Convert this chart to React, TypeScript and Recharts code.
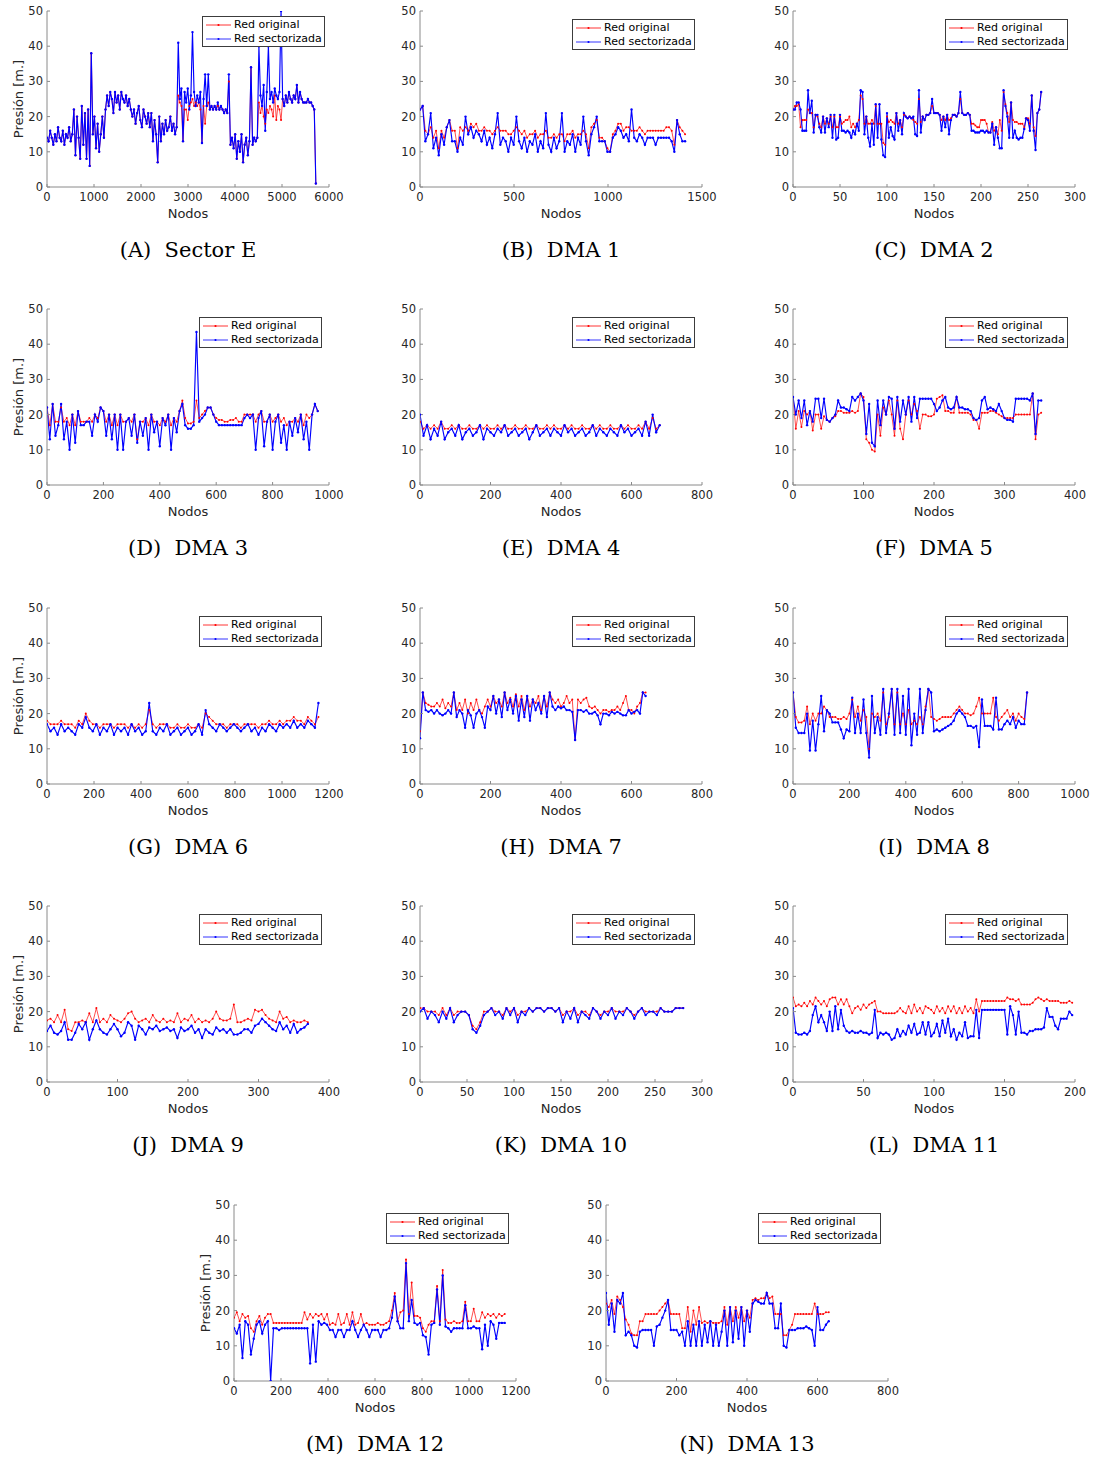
import React from 'react';
import { LineChart, Line, XAxis, YAxis, Legend, Label } from 'recharts';

const SANS = '"DejaVu Sans", sans-serif';
const SERIF = '"DejaVu Serif", serif';
const TEXT = '#262626';
const AXIS = '#8a8a8a';
const RED = '#ff0000';
const BLUE = '#0000ff';

const PLOT_W = 282;
const PLOT_H = 176;
const Y_TICKS = [0, 10, 20, 30, 40, 50];

// (A) Sector E
const sectorEOriginal = [14,13,16,14,12,15,13,17,14,13,16,12,15,14,17,13,15, 22,9,20,14,8,23,12,21,8,22,6,38, 15,20,11,18,10,15,20,14,22, 26,23,27,25,21,27,24,26,22,27,25,24,26,23,25,22, 20,22,18,21,23,19,17,22,20,18,21,17, 21,13,19,15,7,20,13,18, 15,19,16,17,20,16,18,15,17, 26, 24,23,13,22,22,19,23,24, 25, 23,24,23,24,22,12.5,23,18,23,24,22, 23,22,23,22,23,22,23,22,21,22,21,30, 12,14,11,15,8,13,10,15,7,12,14,9,13,34,12,14, 13,14, 24, 21,23,20,18,22,21,23,22,20,26,19,23,22, 19, 25,23,26,24,27,25,24,26,25,29,24,27,25,24,24,24,25,24,24,23, 22, 1];
const sectorESectorizada = [14,13,16,14,12,15,13,17,14,13,16,12,15,14,17,13,15, 22,9,20,14,8,23,12,21,8,22,6,38, 15,20,11,18,10,15,20,14,22, 26,23,27,25,21,27,24,26,22,27,25,24,26,23,25,22, 20,22,18,21,23,19,17,22,20,18,21,17, 21,13,19,15,7,20,13,18, 15,19,16,17,20,16,18,15,17, 41, 25,28,13,27,24,28,22,26, 44, 27,23,26,24,27,12.5,25,32,23,32,22, 23,22,23,22,24,22,23,22,21,22,21,32, 12,14,11,15,8,13,10,15,7,12,14,9,13,34,12,14, 13,14, 40, 26,23,29,16,27,40,25,27,24,28,26,25,27, 50, 25,23,26,24,27,25,24,26,25,29,24,27,25,24,24,24,25,24,24,23, 22, 1];

// (B) DMA 1
const dma1Original = [22,23,16,15,17,14,16,11,16,14, 17,19,16,16,11,17,16,17,16,18, 17,18,16,16,17,16,16,15,16,17, 16,16,16,15,15,16,17,16,15,16, 14,15,15,16,14,15,15,16,14,14, 15,14,15,15,13,15,15,16,14,15, 15,16,15,11,17,18,19,14,14,13, 11,10,15,16,18,18,16,17,17,16, 16,16,17,16,15,16,16,16,16,16, 16,16,17,17,16,12,19,17,16,15];
const dma1Sectorizada = [22,23,13,15,21,11,14,9,15,12, 17,19,13,13,10,14,12,20,15,17, 14,16,15,13,16,12,14,11,15,21, 12,14,13,10,14,12,20,13,11,14, 10,13,12,15,10,13,11,21,12,10, 14,11,13,21,10,13,12,15,10,14, 12,20,13,9,15,17,20,13,13,13, 10,10,14,15,17,16,14,15,13,22, 14,13,15,14,12,14,14,14,12,14, 14,14,14,14,13,10,19,15,13,13];

// (C) DMA 2
const dma2Original = [22,23,23,23.5,17,19,19,19,22,21, 21,17,20.5,20,18,17,20,18,19.5,18, 20,17,20,17,17,20,18,18.5,19,19, 20,17,18,17,18,19,26,25,18,20, 18,18,19,18,23,18,18,18,12.5,12, 20,18.5,19,18.5,18,21,18,19,17,20.5, 20,19.5,20,19.5,19,18.5,18,25,18.5,20, 19,20.5,20.5,21,23,21,21,21,20.5,19, 20,19,20.5,19,19.5,20.5,20.5,20,21,25, 21,20.5,20.5,21,20.5,18,18,17.5,17,17, 19,19,19,18,15.5,15.5,18.5,16,17,15, 19,16,27,23.5,21,18.5,24,19,18.5,18.5, 18,18,18,17,19.5,19.5,18,26,17,14.5, 21,22,27];
const dma2Sectorizada = [22,22,24,24,22,16,16,16,27.5,21, 24.5,15.5,20.5,20.5,17,15.5,20,15.5,19.5,17, 20.5,14,20.5,13.5,14,20.5,16,16,15.5,16, 15.5,14,16,15,18,16,27.5,27,15,20, 14,11.5,18,12,23.5,14,23.5,13.5,9,8.5, 21,14,17,14.5,13.5,21,16,19,15,21, 20,19.5,20,19.5,20,15,14.5,27.5,15.5,20, 19,20.5,20.5,21,25,21,21,21,20.5,16, 20,17,20.5,15,19,20.5,20.5,20,21,27, 21,20.5,20.5,21,20.5,16,16,15.5,15.5,15.5, 16,16,15.5,16,15.5,15.5,18,12,17,14, 11,11,27.5,23,20,14,24,14,16,14, 13.5,14,14,16.5,19.5,19,16,26,16,10.5, 21,22,27];

// (D) DMA 3
const dma3Original = [22,17,23,18,18,22,18,19,17,20, 17,21,18,18,18,19,18,20,19,22, 21,18,20,17,20,17,20,18,18,19, 18,20,13,18,18,19,17,20,18,18, 17,19,18,20,17,19,18,21,24,19, 17.5,17.5,18,24,19,20,21,22,22,20, 19,18.5,18.5,18,18,18.5,18.5,19,18,18, 20,20,20,20,18,20,21,18,18,20, 18,19,20,18,19,17,18,18,19,18, 20,17,20,19,20,23,21];
const dma3Sectorizada = [22,13,23,14,17,23,13,18,10,20, 12,21,17,17,18,18,14,20,18,22, 21,14,20,13,20,10,20,10,18,19, 14,20,12,18,14,19,10,20,15,18, 11,19,17,20,10,19,15,21,23,17, 16,16,17,43.5,18,19,20,22,22,20, 18,17,17,17,17,17,17,17,17,17, 19,20,19,20,10,19,21,11,18,20, 10,18,20,12,17,10,18,14,19,15, 20,13,18,10,20,23,21];

// (E) DMA 4
const dma4Original = [18,16,17,16,17,16,18,16,16,17, 16,17,16,16,17,16,16,17,16,17, 16,16,17,16,17,16,16,17,16,16, 17,16,16,17,16,16,17,16,17,16, 16,17,16,17,16,16,17,16,16,17, 16,17,16,16,17,16,16,17,16,17, 16,16,17,16,18,16,19,16,17];
const dma4Sectorizada = [20,14,17,13,16,14,18,13,15,16, 14,17,13,15,16,14,15,17,13,16, 15,14,16,15,17,14,15,16,14,15, 16,13,15,17,14,15,16,14,16,15, 14,17,15,16,14,15,16,14,15,17, 14,16,15,14,16,15,14,17,15,16, 14,15,16,14,18,14,20,15,17];

// (F) DMA 5
const dma5Original = [25,16,21,16.5,21,20,21,15.5,20,20, 16,19.5,18.5,18,19,19.5,21,21,20.5,20.5, 20.5,21,20.5,21,26,25,13,12,10,9.5, 20,14,22,20,24,20,14,24,16,13, 20,24,20,23,21,16,20,20,19.5,19.5, 20,24.5,25,25.5,21,21,20.5,20.5,25,20.5, 20.5,20.5,20.5,20,18.5,18.5,16,20.5,20.5,20.5, 21,21,20.5,20,19.5,19,19,19,19,20, 20,20,20,20,20,26,13,20,20.5];
const dma5Sectorizada = [25,20,24,19,24,17,21,18,24.5,24.5, 19,24.5,18.5,18,19,20,24,22,22,21.5, 21,25,24,25,26,24,14.5,23,12,11, 24,17,24,20,25,24.5,16,25,18,24, 20,25,18,25,19,24.5,24.5,24.5,24.5,24.5, 23,21,22,24,25,22,21.5,22,25,22, 22,21.5,21.5,21,19,18.5,19,24,25,21.5, 22,21.5,21,23,21,19,18.5,18.5,18,24.5, 24.5,24.5,24.5,24.5,24,26,14.5,24,24];

// (G) DMA 6
const dma6Original = [18,17,17,17,18,17,17,17,16,18, 17,20,18,17,17,16,17,17,17,16, 17,17,17,16,17,16,17,16,17,21, 17,16,17,17,17,16,16,17,16,16, 17,16,16,17,16,20,19,18,17,17, 17,16,17,17,17,16,17,17,17,17, 16,17,17,18,17,17,18,17,18,18, 19,18,18,17,19,18,17,19];
const dma6Sectorizada = [17,15,16,14,17,15,16,15,14,17, 16,19,16,15,17,14,16,15,17,14, 16,15,16,14,17,15,16,14,15,23, 15,14,16,15,17,14,15,16,14,15, 16,14,15,17,14,21,17,16,15,17, 16,15,16,17,16,15,16,17,15,16, 14,16,15,17,16,15,17,16,17,16, 18,16,17,16,18,17,16,23];

// (H) DMA 7
const dma7Original = [15,26,23,22.5,22,22,23,22,24,21.5, 23,22,26,21,23,21,24,20,23,21, 24,21,20,22,24,22,25,23,24,22, 26,23,24.5,22,25.5,22,25,21,25,22, 24,23,25,21,25,22,26,24,23,24, 22,23,25,23,24,12.5,24,23,24,24.5, 22,21.5,22,21,20,21,21,20.5,21,21, 22,21,23,25,21,21,20,22,23,26, 26];
const dma7Sectorizada = [13,26,21,20.5,21,20,21,20,19.5,20, 21,20,26,19,21,20,16,21,19.5,16, 20,21,19,16,22,21,25,20,24,19, 26,21,24,20,25,18,24,19,25,18, 24,21,23,20,25,19,26,22,21,22, 21.5,22,21,21,20.5,12.5,21,21,20.5,21, 20,20,20.5,19.5,17,20,20,19.5,20.5,20, 20.5,20,19.5,19.5,21,20,20.5,21,20,26, 25];

// (I) DMA 8
const dma8Original = [26,19,17.5,17.5,18,22,17,20,18,20, 20,22,21,19,19,19,18.5,18.5,19,18.5, 20,24,19,22,18,21,19,10,20,19, 20,18,26,17,19,27,17,26,17,20, 17,21,17,18,17,19,17,22,27,19, 18.5,18,18.5,19,19,19,19,20,21,22, 21,20,20,19.5,20,22,24.5,20,20,20, 20,24.5,19,18,19,20,21,19,20,18, 20,19,18.5,26];
const dma8Sectorizada = [26,16,14.5,14.5,14.5,20,9.5,18,9.5,17, 25,15,21,20,17.5,17.5,17.5,15.5,13,15.5, 15,24.5,14.5,20,14.5,24,14.5,7.5,25,14.5, 19,14,27,14.5,20,27,14,27,14.5,25, 14,27,11,20,14,27,14.5,21,27,26, 15,15.5,15,15.5,16,16.5,17,18,20,21, 20,19,16.5,16.5,16,16.5,10.5,24,16.5,16.5, 16.5,15.5,24.5,15.5,15.5,17,18,17,19,16, 18,17,17,26];

// (J) DMA 9
const dma9Original = [17.5,18,17,19,17,20.5,15,14.5,17,17, 17.5,17,19.5,17,21,17,18,17,19,18, 17.5,17,18,19.5,20,18,17,17.5,18,17, 19,17.5,17,18,17,17.5,17,19.5,17,18, 17.5,19,17,18,17,17.5,17,18,20,18, 17.5,17.5,18,22,17,17,17.5,18,17.5,20.5, 20,20.5,19,18,17.5,17,20,18,18.5,17, 17.5,17,17,17.5,17];
const dma9Sectorizada = [14.5,16,14,13.5,14.5,17,12,12,14,16.5, 15,17,12,15,17.5,15,14,13.5,15,16.5, 15,13,14,17,16,12,16,15,13.5,15.5, 15,16,14.5,15,15.5,14.5,15,12.5,15.5,14.5, 15,16,14,15,12.5,15,14,13.5,15.5,14.5, 15,14,15,13.5,13.5,14,15,15,14,16, 16.5,18,17,16,15,14.5,17,15,16,14, 16.5,14,15,15.5,16.5];

// (K) DMA 10
const dma10Original = [21,21,20,20,20,19,21,19,21,19, 20,20,20,19,16,15,17,20,20,21, 20,20,19,21,20,21,19,20,20,21, 20,21,21,20,21,21,20,21,19,20, 20,21,19,20,20,19,21,20,19,20, 20,21,20,20,20,21,20,19,20,21, 20,20,20,20,21,20,20,20,21,21, 21];
const dma10Sectorizada = [20,21,18,20,19,17,20,18,21,17, 19,20,20,19,15,14,16,19,20,21, 19,20,18,21,19,21,17,20,19,21, 20,21,21,20,21,21,20,21,17,20, 18,21,17,20,19,18,21,20,18,20, 19,21,18,20,19,21,20,18,20,21, 19,20,20,19,21,20,20,20,21,21, 21];

// (L) DMA 11
const dma11Original = [24,21.5,22,21.5,22.5,21.5,23,22,24,23, 22,23,21.5,23.5,24,24,22,23.5,22,23.5, 21.5,19.5,21,21.5,20.5,22,21,22,22.5,23, 20,20,19.5,19.5,19.5,19.5,19.5,20,21,20, 19.5,21.5,19.5,22,20,21,19.5,21.5,21,20.5, 19.5,21.5,20,21,19.5,21.5,20,21.5,19.5,21, 19.5,21.5,20,21,19.5,23.5,20,23,23,23, 23,23,23,23,23,23,24,23.5,23.5,23, 23.5,22,22,22,22,22.5,23.5,24,23.5,23, 23.5,23,23,23,23,22.5,22.5,22.5,23,22.5];
const dma11Sectorizada = [21,14,13.5,13.5,14,13.5,14.5,19,21.5,17, 19,17,14.5,20,14.5,21.5,15,20.5,16,14.5, 14,14.5,14,14,14.5,14,14,13.5,14,20.5, 12.5,14,13.5,14,13.5,12,12.5,15,13,14.5, 13.5,16,14,16.5,13.5,14,17,13.5,17,13, 14,16.5,13,17.5,14,18,13,15,12,14, 13,17,12.5,13,13,20.5,12.5,20.5,20.5,20.5, 20.5,20.5,20.5,20.5,20.5,20.5,13.5,21.5,19,13.5, 20,14,14,13.5,14.5,14.5,15,15,15,15.5, 21,18.5,18.5,16,15,18,18,18,20,19];

// (M) DMA 12
const dma12Original = [18,19.5,17,19,18,18.5,15,14,17,18.5, 16,18,19,19,16.5,16.5,16.5,16.5,16.5,16.5, 16.5,16.5,16.5,16.5,16.5,19.5,17.5,19,18,19, 18.5,19,17.5,19,16,16.5,16,19,16,16.5, 19,16,19.5,16,16.5,19,16,16.5,16,16, 16,16.5,16,16,16.5,17,20,25,17,19.5, 20,34.5,19,28,18.5,18.5,18,15,14,16, 17,17,27,17,31.5,17.5,16.5,16.5,17,16.5, 16.5,17,22.5,17,17,20.5,17,17,19.5,18, 19,18.5,19,18,19,18.5,19];
const dma12Sectorizada = [15,13.5,16,6.5,17,16,7.5,12,16,17, 13.5,16,17,0,15,15,14.5,15,15,15, 15,15,15,15,15,15,15,5,16,5.5, 17,16,16.5,16,14.5,14.5,12.5,14.5,14.5,12.5, 14.5,14.5,17,14.5,12.5,14.5,16,14.5,12.5,14.5, 14.5,14.5,12.5,14.5,14.5,15,18,24,17,15, 15,33.5,17,23,16.5,16,16.5,13,12.5,7.5, 16,16.5,26,16,30,15.5,15,14,15,15, 15,15,21.5,15,15,15.5,15,15,9,16, 10,17,16,12,16.5,16.5,16.5];

// (N) DMA 13
const dma13Original = [22,21,23,19,24,23,21,17.5,16,13.5, 13,13,17,17,19,19,19,19,19,20, 21,22,23,19,19,19,19,15,15,21, 14,20,16,21,16.5,17,16.5,17,16.5,16.5, 16.5,17,21,16,21,17,21,18,21,17, 20,18,23,23.5,23,23.5,23.5,25,23.5,24, 19,19,19,13,13,14.5,16,19,19,19, 19,19,19,19,22,19,19,19,19.5,19.5];
const dma13Sectorizada = [25,16,22,14,23,22,25,13,14,13, 10,9.5,14,14.5,14.5,14.5,14.5,10,15.5,16, 18,20,23,14.5,14.5,14.5,13,14,10,17, 10,16,10,17,10,16,11,17,10,16, 10,14,20,10,21,11,20,12,21,10, 20,14,22,23,22.5,22,22,25,22,22, 15,15,22,10,9.5,14.5,14.5,14.5,15,15, 15,15.5,15,14.5,10,21,14.5,14.5,16,17];

type PanelSpec = {
  letter: string;
  title: string;
  original: number[];
  sectorizada: number[];
  lastNode: number;
  xTicks: number[];
  plotLeft: number;
  plotTop: number;
  yLabel?: boolean;
  legendTop?: number;
  legendLeft?: number;
};

const PANELS: PanelSpec[] = [
  { letter: 'A', title: 'Sector E', original: sectorEOriginal, sectorizada: sectorESectorizada, lastNode: 5720, xTicks: [0, 1000, 2000, 3000, 4000, 5000, 6000], plotLeft: 47, plotTop: 11, yLabel: true, legendTop: 16, legendLeft: 202 },
  { letter: 'B', title: 'DMA 1', original: dma1Original, sectorizada: dma1Sectorizada, lastNode: 1410, xTicks: [0, 500, 1000, 1500], plotLeft: 420, plotTop: 11 },
  { letter: 'C', title: 'DMA 2', original: dma2Original, sectorizada: dma2Sectorizada, lastNode: 264, xTicks: [0, 50, 100, 150, 200, 250, 300], plotLeft: 793, plotTop: 11 },
  { letter: 'D', title: 'DMA 3', original: dma3Original, sectorizada: dma3Sectorizada, lastNode: 960, xTicks: [0, 200, 400, 600, 800, 1000], plotLeft: 47, plotTop: 309, yLabel: true },
  { letter: 'E', title: 'DMA 4', original: dma4Original, sectorizada: dma4Sectorizada, lastNode: 680, xTicks: [0, 200, 400, 600, 800], plotLeft: 420, plotTop: 309 },
  { letter: 'F', title: 'DMA 5', original: dma5Original, sectorizada: dma5Sectorizada, lastNode: 352, xTicks: [0, 100, 200, 300, 400], plotLeft: 793, plotTop: 309 },
  { letter: 'G', title: 'DMA 6', original: dma6Original, sectorizada: dma6Sectorizada, lastNode: 1155, xTicks: [0, 200, 400, 600, 800, 1000, 1200], plotLeft: 47, plotTop: 608, yLabel: true },
  { letter: 'H', title: 'DMA 7', original: dma7Original, sectorizada: dma7Sectorizada, lastNode: 640, xTicks: [0, 200, 400, 600, 800], plotLeft: 420, plotTop: 608 },
  { letter: 'I', title: 'DMA 8', original: dma8Original, sectorizada: dma8Sectorizada, lastNode: 830, xTicks: [0, 200, 400, 600, 800, 1000], plotLeft: 793, plotTop: 608 },
  { letter: 'J', title: 'DMA 9', original: dma9Original, sectorizada: dma9Sectorizada, lastNode: 370, xTicks: [0, 100, 200, 300, 400], plotLeft: 47, plotTop: 906, yLabel: true },
  { letter: 'K', title: 'DMA 10', original: dma10Original, sectorizada: dma10Sectorizada, lastNode: 280, xTicks: [0, 50, 100, 150, 200, 250, 300], plotLeft: 420, plotTop: 906 },
  { letter: 'L', title: 'DMA 11', original: dma11Original, sectorizada: dma11Sectorizada, lastNode: 198, xTicks: [0, 50, 100, 150, 200], plotLeft: 793, plotTop: 906 },
  { letter: 'M', title: 'DMA 12', original: dma12Original, sectorizada: dma12Sectorizada, lastNode: 1152, xTicks: [0, 200, 400, 600, 800, 1000, 1200], plotLeft: 234, plotTop: 1205, yLabel: true },
  { letter: 'N', title: 'DMA 13', original: dma13Original, sectorizada: dma13Sectorizada, lastNode: 632, xTicks: [0, 200, 400, 600, 800], plotLeft: 606, plotTop: 1205 },
];

const SERIES = [
  { name: 'Red original', color: RED },
  { name: 'Red sectorizada', color: BLUE },
];

function toPoints(vals: number[], lastNode: number) {
  return vals.map((y, i) => ({ x: (i * lastNode) / (vals.length - 1), y }));
}

function LegendBox() {
  return (
    <div
      style={{
        width: 123,
        height: 31,
        boxSizing: 'border-box',
        border: '1px solid #3c3c3c',
        background: '#fff',
        fontFamily: SANS,
        fontSize: 11,
        color: '#000',
        paddingTop: 1,
      }}
    >
      {SERIES.map((s) => (
        <div key={s.name} style={{ display: 'flex', alignItems: 'center', height: 14 }}>
          <svg width={31} height={14} style={{ display: 'block' }}>
            <line x1={3} x2={28} y1={7} y2={7} stroke={s.color} strokeWidth={0.8} />
            <circle cx={15.5} cy={7} r={1.1} fill={s.color} />
          </svg>
          <span style={{ whiteSpace: 'nowrap', lineHeight: '14px' }}>{s.name}</span>
        </div>
      ))}
    </div>
  );
}

const tickStyle = { fontFamily: SANS, fontSize: 11.5, fill: TEXT };
const labelStyle = { fontFamily: SANS, fontSize: 13, fill: TEXT };

function Panel({ p }: { p: PanelSpec }) {
  const xMax = p.xTicks[p.xTicks.length - 1];
  const original = toPoints(p.original, p.lastNode);
  const sectorizada = toPoints(p.sectorizada, p.lastNode);
  return (
    <>
      <div style={{ position: 'absolute', left: p.plotLeft - 47, top: p.plotTop - 11 }}>
        <LineChart width={47 + PLOT_W + 20} height={11 + PLOT_H + 31 + 9} margin={{ top: 11, right: 20, bottom: 9, left: 0 }}>
          <XAxis
            xAxisId="bottom"
            dataKey="x"
            type="number"
            domain={[0, xMax]}
            ticks={p.xTicks}
            interval={0}
            allowDataOverflow
            height={31}
            stroke={AXIS}
            tickSize={-3}
            tickMargin={9}
            tick={tickStyle}
          >
            <Label value="Nodos" position="insideBottom" offset={0} style={labelStyle} />
          </XAxis>
          <XAxis
            xAxisId="top"
            orientation="top"
            dataKey="x"
            type="number"
            domain={[0, xMax]}
            ticks={p.xTicks}
            interval={0}
            height={0}
            stroke={AXIS}
            tickSize={-3}
            tick={false}
          />
          <YAxis
            yAxisId="left"
            type="number"
            domain={[0, 50]}
            ticks={Y_TICKS}
            interval={0}
            allowDataOverflow
            width={47}
            stroke={AXIS}
            tickSize={-3}
            tickMargin={7}
            tick={tickStyle}
          >
            {p.yLabel && (
              <Label
                value="Presión [m.]"
                angle={-90}
                position="insideLeft"
                offset={18}
                style={{ ...labelStyle, textAnchor: 'middle' }}
              />
            )}
          </YAxis>
          <YAxis
            yAxisId="right"
            orientation="right"
            type="number"
            domain={[0, 50]}
            ticks={Y_TICKS}
            interval={0}
            width={0}
            stroke={AXIS}
            tickSize={-3}
            tick={false}
          />
          <Line
            xAxisId="bottom"
            yAxisId="left"
            data={original}
            dataKey="y"
            name="Red original"
            stroke={RED}
            strokeWidth={0.7}
            dot={{ r: 1, fill: RED, stroke: 'none', strokeWidth: 0 }}
            activeDot={false}
            isAnimationActive={false}
          />
          <Line
            xAxisId="bottom"
            yAxisId="left"
            data={sectorizada}
            dataKey="y"
            name="Red sectorizada"
            stroke={BLUE}
            strokeWidth={1.15}
            dot={{ r: 1.2, fill: BLUE, stroke: 'none', strokeWidth: 0 }}
            activeDot={false}
            isAnimationActive={false}
          />
          <Legend
            content={<LegendBox />}
            layout="horizontal"
            verticalAlign="middle"
            align="center"
            wrapperStyle={{ top: p.legendTop ?? 19, left: p.legendLeft ?? 199, width: 123, height: 31 }}
          />
        </LineChart>
      </div>
      <div
        style={{
          position: 'absolute',
          left: p.plotLeft + PLOT_W / 2 - 150,
          top: p.plotTop + 239 - 13,
          width: 300,
          height: 26,
          lineHeight: '26px',
          textAlign: 'center',
          fontFamily: SERIF,
          fontSize: 21,
          color: '#000',
          whiteSpace: 'pre',
        }}
      >
        {`(${p.letter})  ${p.title}`}
      </div>
    </>
  );
}

export default function App() {
  return (
    <div style={{ position: 'absolute', left: 0, top: 0, width: 1097, height: 1460, background: '#fff' }}>
      {PANELS.map((p) => (
        <Panel key={p.letter} p={p} />
      ))}
    </div>
  );
}
